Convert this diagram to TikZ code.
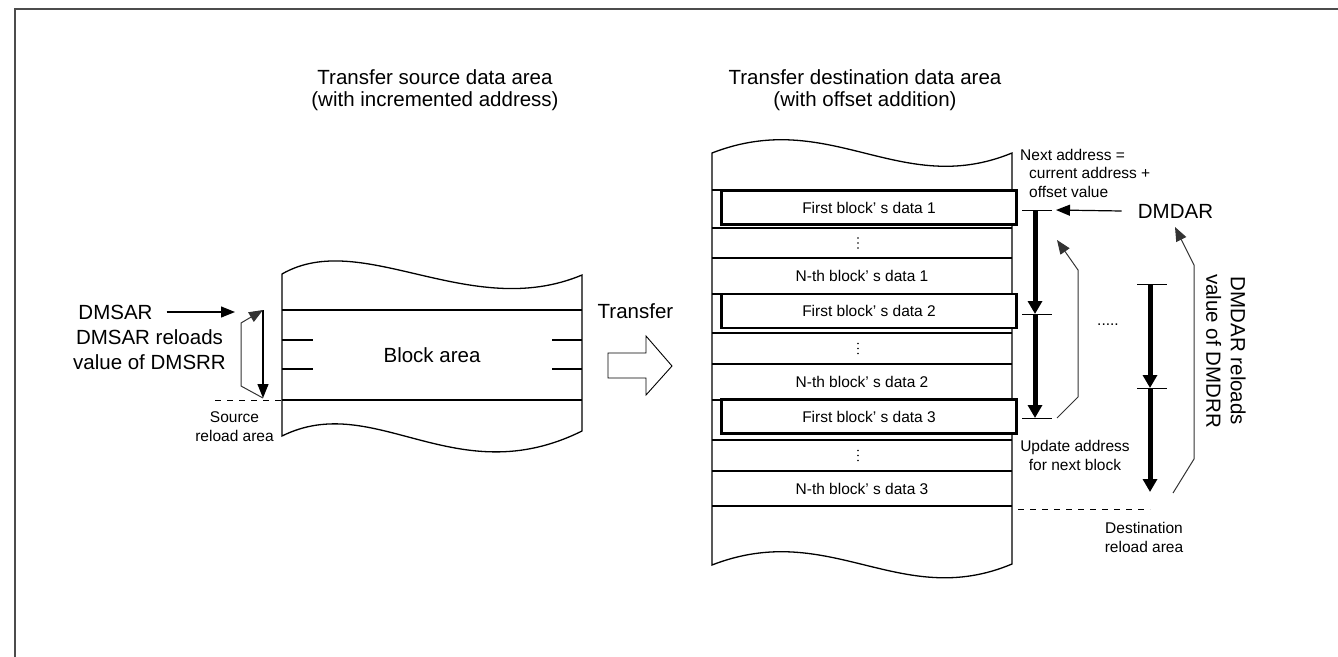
\documentclass[tikz,border=0pt]{standalone}
\usepackage{fontspec}
\setmainfont{Liberation Sans}
\usetikzlibrary{arrows.meta}

\begin{document}
\begin{tikzpicture}[x=1pt,y=-1pt,
  bigtext/.style={font=\fontsize{20.5}{24.5}\selectfont,align=center,inner sep=0pt},
  headtext/.style={font=\fontsize{20.5}{22}\selectfont,align=center,inner sep=0pt},
  smalltext/.style={font=\fontsize{15.5}{18.5}\selectfont,align=center,inner sep=0pt},
  region/.style={line width=1.3pt},
  rowline/.style={line width=1.1pt},
  blockbox/.style={draw,line width=2.6pt,fill=white,minimum width=295pt,minimum height=34pt},
  tick/.style={line width=1pt},
  thinarrow/.style={line width=1.2pt,-{Triangle[length=14pt,width=11pt]}},
  boldarrow/.style={line width=5pt,-{Triangle[length=13pt,width=14pt]}},
  reloadloop/.style={line width=1pt,black!80,-{Triangle[length=14pt,width=11pt]}}]
  \useasboundingbox (0,0) rectangle (1338,656);
  \draw[line width=2pt,black!70] (14.5,660) -- (14.5,8.5) -- (1342,8.5);

  \node[headtext] (srchead) at (435,90) {Transfer source data area\\(with incremented address)};
  \node[headtext] (dsthead) at (865,90) {Transfer destination data area\\(with offset addition)};

  \draw[region] (282,274) .. controls (362,228) and (470,322) .. (582,275) -- (582,431) .. controls (455,494) and (375,390) .. (282,436) -- cycle;
  \draw[rowline] (282,310) -- (582,310) (282,400) -- (582,400);
  \draw[rowline] (282,340) -- (313,340) (552,340) -- (582,340) (282,369) -- (313,369) (552,369) -- (582,369);
  \node[bigtext] (blockarea) at (432,355) {Block area};

  \node[bigtext] (dmsar) at (115.5,312) {DMSAR};
  \node[bigtext] (srcreload) at (149.5,349.5) {DMSAR reloads\\value of DMSRR};
  \coordinate (dmsarin) at (235,312);
  \coordinate (srctop) at (263,310);
  \coordinate (srcbot) at (263,398);
  \draw[thinarrow] ([xshift=14pt]dmsar.east) -- (dmsarin);
  \draw[thinarrow] (srctop) -- (srcbot);
  \draw[reloadloop] (srcbot) -- (241,386) -- (241,323) -- (srctop);
  \draw[line width=1pt,dash pattern=on 6pt off 6pt] (215,400) -- (282,400);
  \node[smalltext] (srcarea) at (234.5,426.5) {Source\\reload area};

  \node[bigtext] (transfer) at (635.5,311) {Transfer};
  \draw[line width=0.9pt] (608,353) -- (646,353) -- (646,336) -- (672,366) -- (646,395) -- (646,378) -- (608,378) -- cycle;

  \draw[region] (712,153) .. controls (830,107) and (900,199) .. (1012,153) -- (1012,564) .. controls (900,611) and (830,519) .. (712,565) -- cycle;
  \draw[rowline] (712,190) -- (1012,190) (712,228) -- (1012,228) (712,258) -- (1012,258) (712,294) -- (1012,294) (712,333) -- (1012,333);
  \draw[rowline] (712,364) -- (1012,364) (712,400) -- (1012,400) (712,440) -- (1012,440) (712,471) -- (1012,471) (712,506) -- (1012,506);
  \node[blockbox,smalltext] (first1) at (869,207.5) {First block’ s data 1};
  \node[blockbox,smalltext] (first2) at (869,311) {First block’ s data 2};
  \node[blockbox,smalltext] (first3) at (869,416.5) {First block’ s data 3};
  \coordinate (dots1) at (858,243);
  \coordinate (dots2) at (858,348.5);
  \coordinate (dots3) at (858,455.5);
  \foreach \c in {dots1,dots2,dots3}
    \foreach \d in {-5,0,5}
      \fill ([yshift=\d pt]\c) circle (0.85pt);
  \node[smalltext] (nth1) at (862,276) {N-th block’ s data 1};
  \node[smalltext] (nth2) at (862,382) {N-th block’ s data 2};
  \node[smalltext] (nth3) at (862,488.5) {N-th block’ s data 3};

  \node[smalltext,align=left,anchor=west] (nextaddr) at (1020,173) {Next address =\\\hspace*{9pt}current address +\\\hspace*{9pt}offset value};
  \node[bigtext] (dmdar) at (1175.5,211) {DMDAR};
  \coordinate (dmdarin) at (1056,210);
  \draw[thinarrow] ([xshift=-16pt]dmdar.west) -- (dmdarin);

  \coordinate (a1) at (1035,210);
  \coordinate (a2) at (1035,314);
  \coordinate (a3) at (1035,418);
  \draw[tick] (1022,210) -- (1052,210) (1022,314) -- (1052,314) (1022,418) -- (1052,418);
  \draw[boldarrow] (a1) -- (a2);
  \draw[boldarrow] (a2) -- (a3);
  \draw[reloadloop] (1057,418) -- (1078,397) -- (1078,270) -- (1057,240);
  \node[smalltext] (update) at (1075,455.5) {Update address\\for next block};
  \node[smalltext] (more) at (1108,325) {.....};

  \coordinate (b1) at (1150,284);
  \coordinate (b2) at (1150,388);
  \coordinate (b3) at (1150,492);
  \draw[tick] (1137,284) -- (1167,284) (1137,388) -- (1167,388);
  \draw[boldarrow] (b1) -- (b2);
  \draw[boldarrow] (b2) -- (b3);
  \draw[reloadloop] (1173,493) -- (1194,459) -- (1194,265) -- (1175,227);
  \node[bigtext,rotate=-90] (dstreload) at (1226,351) {DMDAR reloads\\value of DMDRR};
  \draw[line width=1pt,dash pattern=on 6pt off 6pt] (1018,509) -- (1150,509);
  \node[smalltext] (dstarea) at (1144,537.5) {Destination\\reload area};
\end{tikzpicture}
\end{document}
